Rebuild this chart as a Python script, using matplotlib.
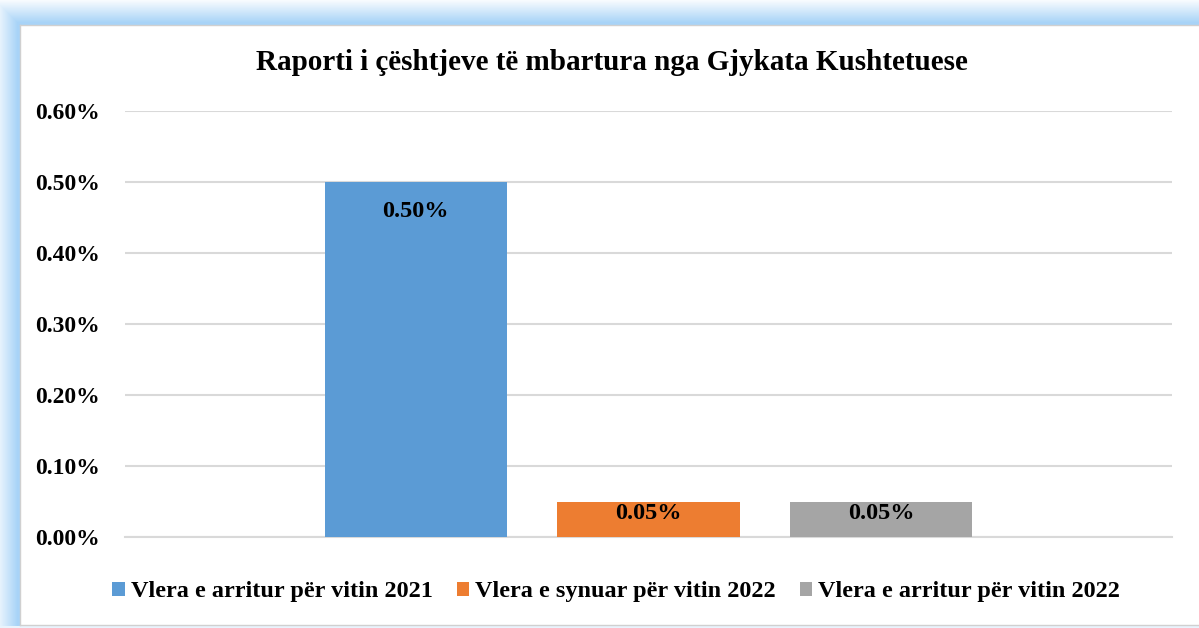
import matplotlib
matplotlib.use("Agg")
import matplotlib.pyplot as plt
import numpy as np
from matplotlib.ticker import FuncFormatter

# data
series_names = ["Vlera e arritur për vitin 2021",
                "Vlera e synuar për vitin 2022",
                "Vlera e arritur për vitin 2022"]
values = [0.50, 0.05, 0.05]  # percent
labels = ["0.50%", "0.05%", "0.05%"]
colors = ["#5b9bd5", "#ed7d31", "#a5a5a5"]
yticks = [0.0, 0.1, 0.2, 0.3, 0.4, 0.5, 0.6]

plt.rcParams['font.family'] = ['Liberation Serif', 'DejaVu Serif']
plt.rcParams['font.weight'] = 'bold'

W, H = 1199, 628
fig = plt.figure(figsize=(W / 100, H / 100), dpi=100)

# light-blue glow frame around the white panel
bg = fig.add_axes([0, 0, 1, 1])
yy, xx = np.mgrid[0:H, 0:W]
dx = np.clip(20 - xx, 0, None)
dy = np.clip(25 - yy, 0, None)
d = np.maximum(dx, dy).astype(float)
inside = (xx >= 20) & (yy >= 25) & (yy <= 625)
t = np.where(inside, 0.0, np.clip(1 - (d - 3) / 24, 0, 1))
t[yy > 625] = 0.25
blue = np.array([0.66, 0.83, 0.97])
img = (1 - t[..., None]) * 1.0 + t[..., None] * blue
bg.imshow(img, aspect='auto', extent=(0, W, H, 0))
bg.plot([20, 20], [25, 625], color="#d0d0d0", lw=1)
bg.plot([20, W], [25, 25], color="#d0d0d0", lw=1)
bg.plot([20, W], [625, 625], color="#d0d0d0", lw=1)
bg.set_xlim(0, W)
bg.set_ylim(H, 0)
bg.axis('off')

ax = fig.add_axes([125 / W, 1 - 537 / H, (1172 - 125) / W, (537 - 111) / H])
ax.set_facecolor('none')
x = np.arange(len(values)) - 1
bars = ax.bar(x, values, width=0.785, color=colors, label=series_names, zorder=3)
for b, v, lab in zip(bars, values, labels):
    off = 0.042 if v > 0.1 else 0.017
    ax.text(b.get_x() + b.get_width() / 2, v - off, lab, ha='center', va='center',
            fontsize=17.5, fontweight='bold', zorder=4)

ax.set_xlim(-2.25, 2.25)
ax.set_ylim(0, 0.6)
ax.set_yticks(yticks)
ax.yaxis.set_major_formatter(FuncFormatter(lambda v, p: f"{v:.2f}%"))
ax.tick_params(axis='y', length=0, pad=18, labelsize=17)
ax.set_xticks([])
ax.grid(axis='y', color='#d9d9d9', lw=1.5, zorder=0)
for s in ['top', 'right', 'left']:
    ax.spines[s].set_visible(False)
ax.spines['bottom'].set_color('#d9d9d9')
ax.spines['bottom'].set_linewidth(1.5)

fig.text(0.5104, 1 - 62 / H, "Raporti i çështjeve të mbartura nga Gjykata Kushtetuese",
         ha='center', va='center', fontsize=21, fontweight='bold')

fig.legend(handles=list(bars), labels=series_names, loc='center',
           bbox_to_anchor=(0.514, 1 - 592 / H), ncol=3, frameon=False,
           prop={'size': 17.5, 'weight': 'bold'}, handlelength=0.5, handleheight=0.5,
           handletextpad=0.25, columnspacing=1.0)

plt.savefig('out.png', dpi=100)
